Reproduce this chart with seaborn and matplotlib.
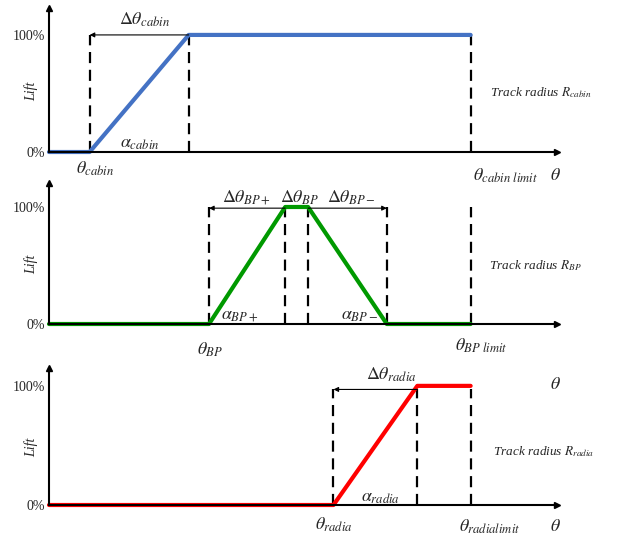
import pandas as pd
from matplotlib import pyplot as plt
import numpy as np
import seaborn as sns

# lift curves (theta in arbitrary units, lift in %)
theta_cabin = [0, 0.8, 2.75, 8.3]
lift_cabin = [0, 0, 100, 100]
dash_cabin = [0.8, 2.75, 8.3]

theta_bp = [0, 3.15, 4.65, 5.1, 6.65, 8.3]
lift_bp = [0, 0, 100, 100, 0, 0]
dash_bp = [3.15, 4.65, 5.1, 6.65, 8.3]

theta_radia = [0, 5.6, 7.25, 8.3]
lift_radia = [0, 0, 100, 100]
dash_radia = [5.6, 7.25, 8.3]

ytick_vals = [0, 100]
ytick_labels = ['0%', '100%']

sns.set_style('white')
plt.rcParams['font.family'] = ['Liberation Serif', 'DejaVu Serif']
plt.rcParams['mathtext.fontset'] = 'stix'

fig = plt.figure(figsize=(6.18, 5.38), dpi=100)
left, width = 49 / 618, 508 / 618
ax1 = fig.add_axes([left, 1 - 152 / 538, width, 144 / 538])
ax2 = fig.add_axes([left, 1 - 324 / 538, width, 141 / 538])
ax3 = fig.add_axes([left, 1 - 505 / 538, width, 137 / 538])
tops = [123, 120.5, 115]


def base(ax, top):
    ax.set_xlim(0, 10)
    ax.set_ylim(0, top)
    sns.despine(ax=ax)
    for s in ['left', 'bottom']:
        ax.spines[s].set_color('black')
        ax.spines[s].set_linewidth(1.5)
    ax.set_xticks([])
    ax.set_yticks(ytick_vals)
    ax.set_yticklabels(ytick_labels, fontsize=10)
    ax.tick_params(axis='y', length=0, pad=3)
    ax.set_ylabel('Lift', style='italic', fontsize=10)
    ax.yaxis.set_label_coords(-0.021, 0.42)
    # axis arrows
    ax.plot(1, 0, '>k', ms=5, transform=ax.get_yaxis_transform(), clip_on=False)
    ax.plot(0, 1, '^k', ms=5, transform=ax.get_xaxis_transform(), clip_on=False)


for ax, top in zip([ax1, ax2, ax3], tops):
    base(ax, top)

dash_kw = dict(colors='black', linestyles=(0, (5, 3)), linewidth=1.6, zorder=1)
arr_kw = dict(arrowstyle='-|>', color='black', lw=0.8, mutation_scale=7, shrinkA=0, shrinkB=0)

# panel 1: cabin
sns.lineplot(x=theta_cabin, y=lift_cabin, ax=ax1, color='#4472C4', linewidth=3,
             estimator=None, sort=False)
ax1.vlines(dash_cabin, 0, 100, **dash_kw)
ax1.annotate('', xy=(dash_cabin[0], 100), xytext=(dash_cabin[1], 100), arrowprops=arr_kw)
ax1.text(1.89, 113, r'$\Delta\theta_{cabin}$', ha='center', va='center', fontsize=13)
ax1.text(1.79, 7, r'$\alpha_{cabin}$', ha='center', va='center', fontsize=13)
ax1.text(0.9, -14, r'$\theta_{cabin}$', ha='center', va='center', fontsize=13)
ax1.text(8.98, -20, r'$\theta_{cabin\ limit}$', ha='center', va='center', fontsize=13)
ax1.text(9.96, -20, r'$\theta$', ha='center', va='center', fontsize=13)
ax1.text(8.68, 51, r'Track radius $R_{cabin}$', ha='left', va='center',
         fontsize=9.5, style='italic')

# panel 2: BP
sns.lineplot(x=theta_bp, y=lift_bp, ax=ax2, color='#009900', linewidth=3,
             estimator=None, sort=False)
ax2.vlines(dash_bp, 0, 100, **dash_kw)
ax2.annotate('', xy=(dash_bp[0], 99), xytext=(dash_bp[1], 99), arrowprops=arr_kw)
ax2.annotate('', xy=(dash_bp[3], 99), xytext=(dash_bp[2], 99), arrowprops=arr_kw)
ax2.text(3.88, 108, r'$\Delta\theta_{BP+}$', ha='center', va='center', fontsize=13)
ax2.text(4.94, 108, r'$\Delta\theta_{BP}$', ha='center', va='center', fontsize=13)
ax2.text(5.96, 108, r'$\Delta\theta_{BP-}$', ha='center', va='center', fontsize=13)
ax2.text(3.76, 7, r'$\alpha_{BP+}$', ha='center', va='center', fontsize=13)
ax2.text(6.12, 7, r'$\alpha_{BP-}$', ha='center', va='center', fontsize=13)
ax2.text(3.17, -22, r'$\theta_{BP}$', ha='center', va='center', fontsize=13)
ax2.text(8.5, -19, r'$\theta_{BP\ limit}$', ha='center', va='center', fontsize=13)
ax2.text(8.66, 50, r'Track radius $R_{BP}$', ha='left', va='center',
         fontsize=9.5, style='italic')

# panel 3: radia
sns.lineplot(x=theta_radia, y=lift_radia, ax=ax3, color='#FF0000', linewidth=3,
             estimator=None, sort=False)
ax3.vlines(dash_radia, 0, 97, **dash_kw)
ax3.annotate('', xy=(dash_radia[0], 97), xytext=(dash_radia[1], 97), arrowprops=arr_kw)
ax3.text(6.73, 109, r'$\Delta\theta_{radia}$', ha='center', va='center', fontsize=13)
ax3.text(6.52, 6, r'$\alpha_{radia}$', ha='center', va='center', fontsize=13)
ax3.text(5.6, -17, r'$\theta_{radia}$', ha='center', va='center', fontsize=13)
ax3.text(8.68, -18, r'$\theta_{radialimit}$', ha='center', va='center', fontsize=13)
ax3.text(9.96, -18, r'$\theta$', ha='center', va='center', fontsize=13)
ax3.text(9.96, 101, r'$\theta$', ha='center', va='center', fontsize=13)
ax3.text(8.74, 45, r'Track radius $R_{radia}$', ha='left', va='center',
         fontsize=9.5, style='italic')

for ax in [ax1, ax2, ax3]:
    for ln in ax.lines:
        ln.set_clip_on(False)

plt.savefig('out.png', dpi=100)
